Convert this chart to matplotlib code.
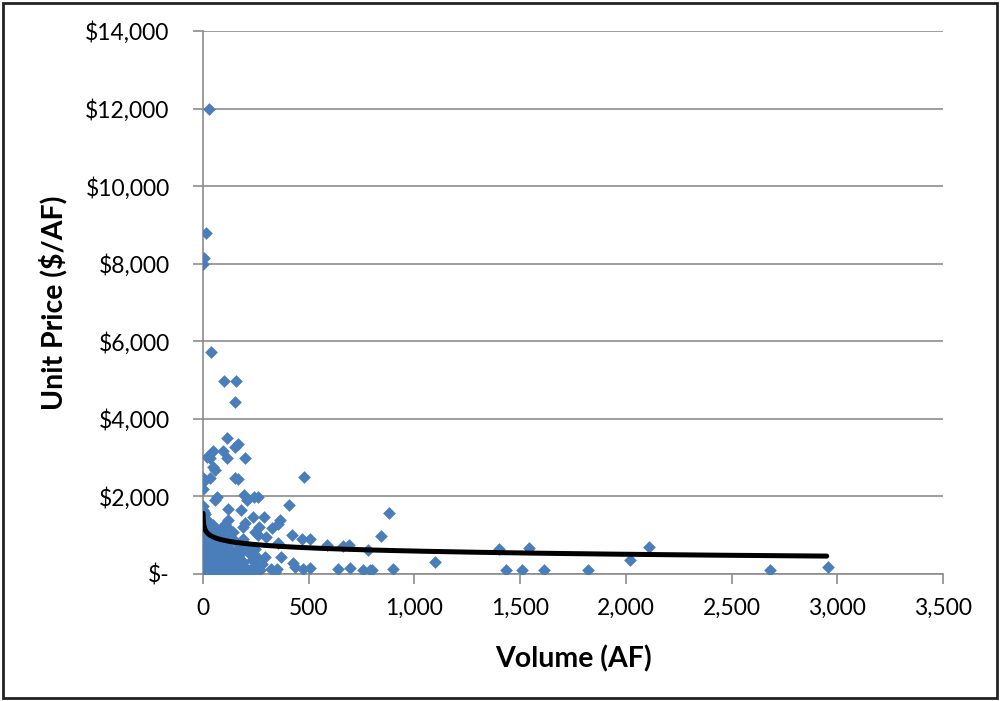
import numpy as np
import matplotlib.pyplot as plt
from matplotlib.patches import Rectangle
from matplotlib.ticker import FuncFormatter

plt.rcParams['font.family'] = ['Lato', 'DejaVu Sans']

# sparse / outlying trades: (volume AF, unit price $/AF)
sparse_trades = [
    (28, 12000), (15, 8800), (5, 8150), (0, 8000), (36, 5720), (100, 4980), (155, 4980),
    (150, 4440), (112, 3500), (47, 3180), (95, 3180), (150, 3280), (165, 3350), (112, 2990),
    (200, 2990), (18, 3020), (33, 2990), (47, 2770), (57, 2680), (1, 2470), (10, 2420),
    (33, 2470), (150, 2470), (164, 2450), (480, 2500), (1, 2190), (65, 1990), (57, 1910),
    (195, 2030), (240, 1990), (258, 1990), (207, 1910), (1, 1750), (118, 1670), (180, 1650),
    (237, 1480), (290, 1480), (407, 1780), (118, 1390), (104, 1290), (200, 1310), (190, 1220),
    (265, 1210), (364, 1390), (355, 1290), (325, 1190), (245, 1090), (260, 1000), (420, 1000),
    (300, 960), (470, 900), (505, 900), (355, 800), (254, 450), (293, 450), (370, 440),
    (425, 290), (437, 190), (473, 130), (506, 150), (322, 130), (350, 130), (128, 60),
    (175, 60), (222, 100), (340, 60), (585, 750), (660, 730), (690, 750), (780, 620),
    (842, 990), (880, 1580), (640, 130), (695, 150), (757, 100), (790, 100), (800, 100),
    (900, 130), (1097, 300), (1400, 650), (1540, 670), (1435, 100), (1510, 100), (1615, 100),
    (1820, 100), (2020, 370), (2110, 690), (2680, 100), (2955, 190),
]

# dense cluster of small trades
dense_trades = [
    (2, 1500), (5, 1420), (8, 1350), (12, 1280), (3, 1200), (15, 1150), (6, 1100), (20, 1050),
    (10, 1000), (25, 980), (4, 950), (30, 920), (14, 880), (40, 860), (8, 820), (18, 800),
    (35, 780), (50, 760), (2, 740), (22, 720), (60, 700), (12, 680), (45, 660), (28, 640),
    (70, 620), (5, 600), (38, 590), (55, 570), (16, 550), (80, 540), (25, 520), (65, 500),
    (3, 480), (42, 470), (90, 460), (10, 440), (32, 420), (75, 410), (20, 400), (52, 390),
    (100, 380), (6, 360), (85, 350), (28, 340), (60, 330), (14, 320), (110, 310), (40, 300),
    (2, 290), (70, 280), (95, 270), (18, 260), (48, 250), (120, 240), (8, 230), (32, 220),
    (80, 210), (58, 200), (4, 190), (24, 180), (105, 170), (44, 160), (12, 150), (68, 140),
    (140, 130), (30, 120), (90, 110), (6, 100), (50, 90), (16, 80), (125, 70), (36, 60),
    (75, 50), (3, 40), (60, 30), (20, 20), (100, 15), (45, 10), (10, 5), (150, 60),
    (165, 100), (180, 40), (130, 140), (160, 220), (145, 300), (175, 380), (120, 450),
    (155, 520), (135, 600), (170, 680), (110, 760), (150, 850), (125, 930), (95, 1000),
    (140, 1080), (115, 540), (85, 620), (160, 480), (190, 300), (200, 180), (210, 80),
    (185, 560), (130, 380), (105, 680), (75, 880), (55, 1050), (95, 820), (65, 940),
    (35, 1150), (48, 1250), (28, 1320), (18, 1400), (9, 1550), (1, 1650), (7, 1600),
    (60, 1100), (85, 1150), (115, 1200), (22, 1250), (48, 1180), (72, 1020), (138, 900),
    (62, 560), (88, 430), (30, 260), (170, 120), (195, 30), (12, 20), (40, 50), (108, 720),
    (230, 350), (250, 200), (270, 90), (225, 480), (215, 620), (245, 640), (280, 250),
    (235, 40), (205, 760), (190, 900),
]

# logarithmic trend line of the original chart: y = a - b*ln(x)
trend_a = 1420
trend_b = 120
trend_x_range = (0.3, 2950)

vol, price = np.array(sparse_trades + dense_trades, dtype=float).T

fig = plt.figure(figsize=(10, 7.01), dpi=100)
ax = fig.add_axes([0.203, 0.1812, 0.740, 0.7746])

ax.scatter(vol, price, marker='D', s=42, color='#4A7EBB', linewidths=0, zorder=3)

tx = np.linspace(trend_x_range[0], trend_x_range[1], 3000)
ax.plot(tx, trend_a - trend_b * np.log(tx), color='black', lw=3.6, zorder=4,
        solid_capstyle='round')

ax.set_xlim(0, 3500)
ax.set_ylim(0, 14000)
ax.set_xticks(np.arange(0, 3501, 500))
ax.set_yticks(np.arange(0, 14001, 2000))
ax.xaxis.set_major_formatter(FuncFormatter(lambda v, p: f'{v:,.0f}'))
ax.yaxis.set_major_formatter(FuncFormatter(lambda v, p: '$-' if v == 0 else f'${v:,.0f}'))

ax.grid(axis='y', color='#8C8C8C', lw=1.2)
ax.set_axisbelow(True)
for s in ['top', 'right']:
    ax.spines[s].set_visible(False)
for s in ['left', 'bottom']:
    ax.spines[s].set_color('#8C8C8C')
    ax.spines[s].set_linewidth(1.2)
ax.tick_params(axis='both', colors='#8C8C8C', width=1.2, length=7, labelcolor='black',
               labelsize=16.5)
ax.tick_params(axis='y', pad=17)
ax.tick_params(axis='x', pad=10)

ax.set_xlabel('Volume (AF)', fontsize=20.5, fontweight='bold', labelpad=19)
ax.set_ylabel('Unit Price ($/AF)', fontsize=20.5, fontweight='bold', labelpad=13)

fig.patches.append(Rectangle((0.003, 0.004), 0.994, 0.992, transform=fig.transFigure,
                             fill=False, edgecolor='#222222', lw=2))

fig.savefig('out.png', dpi=100)
